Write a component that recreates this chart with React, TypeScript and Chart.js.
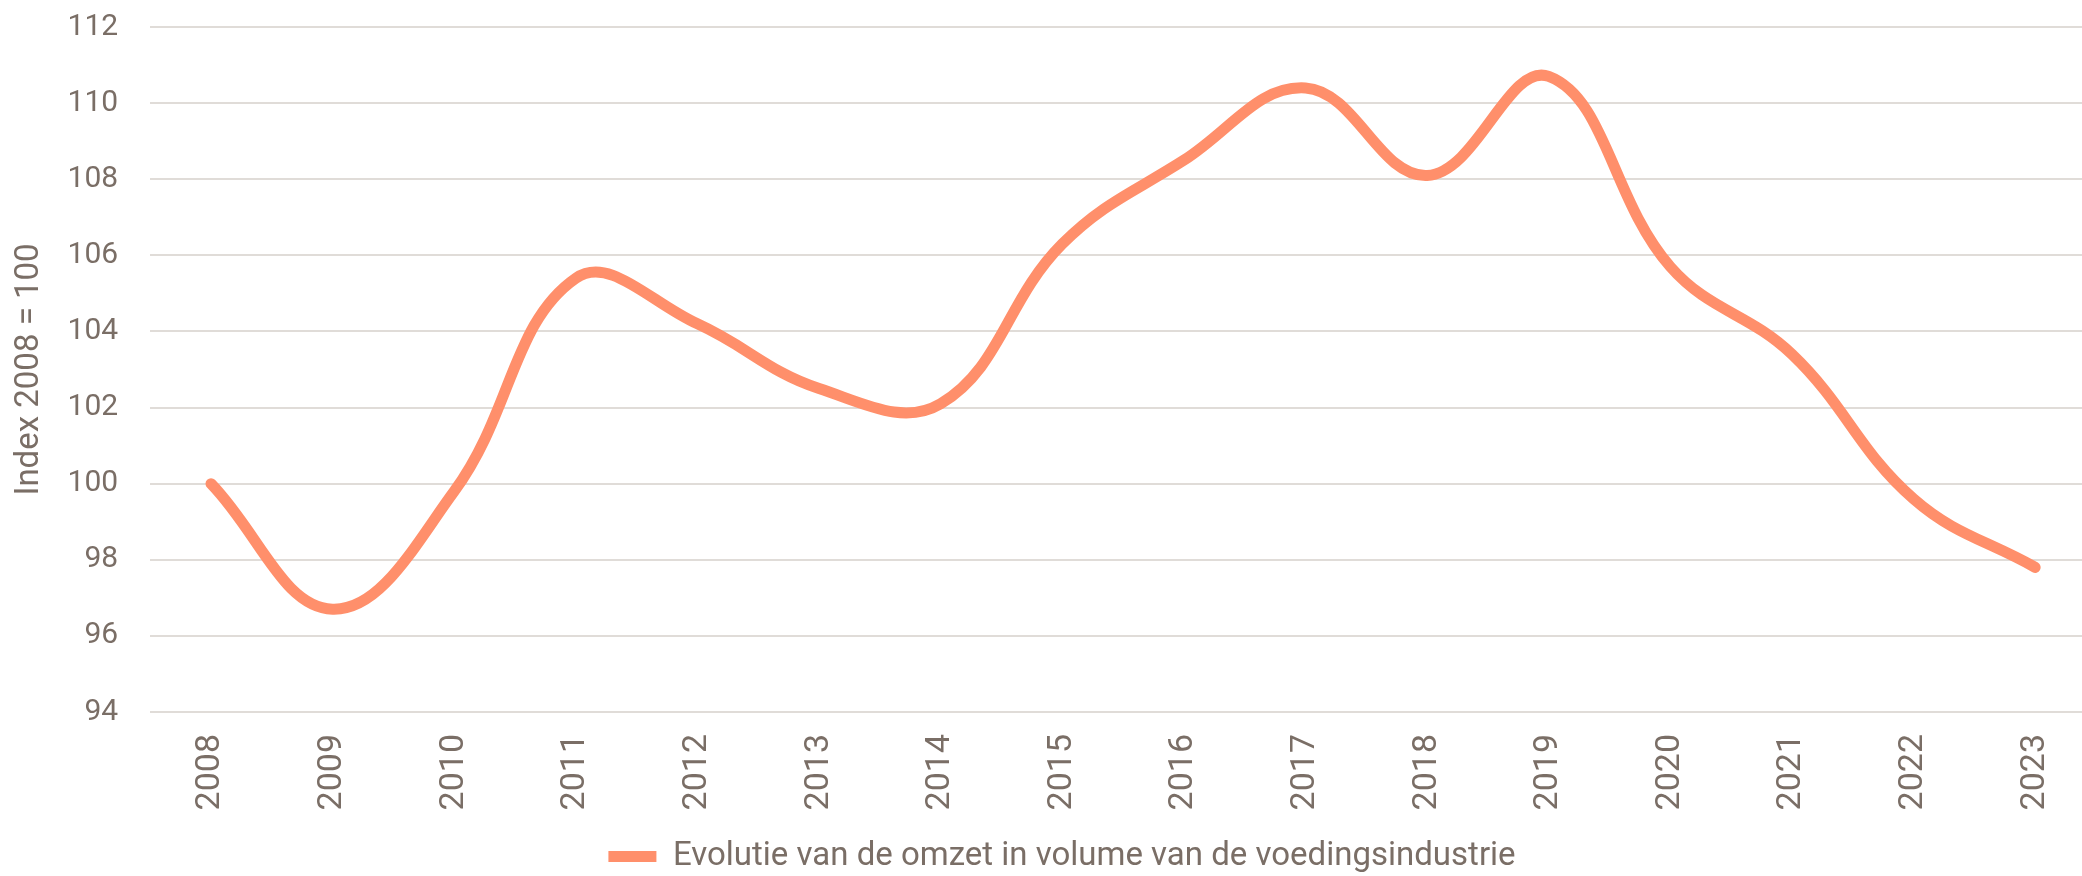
import React, { useEffect, useRef } from "react";
import { Chart, registerables } from "chart.js";

Chart.register(...registerables);

const years = ["2008","2009","2010","2011","2012","2013","2014","2015","2016","2017","2018","2019","2020","2021","2022","2023"];
const omzetIndex = [100, 96.7, 99.8, 105.4, 104.2, 102.5, 102.1, 106.3, 108.5, 110.4, 108.1, 110.7, 105.7, 103.4, 99.6, 97.8];
const seriesLabel = "Evolutie van de omzet in volume van de voedingsindustrie";
const yTitle = "Index 2008 = 100";
const yMin = 94;
const yMax = 112;
const yStep = 2;

const TEXT = "#7a6e66";
const LINE = "#ff8f6b";
const GRID = "#e0dcd8";
const FONT = "Roboto";

export default function App() {
  const ref = useRef<HTMLCanvasElement | null>(null);
  useEffect(() => {
    if (!ref.current) return;
    const chart = new Chart(ref.current, {
      type: "line",
      data: {
        labels: years,
        datasets: [
          {
            label: seriesLabel,
            data: omzetIndex,
            borderColor: LINE,
            backgroundColor: LINE,
            borderWidth: 11,
            borderCapStyle: "round",
            borderJoinStyle: "round",
            tension: 0.4,
            pointRadius: 0,
            pointHoverRadius: 0,
            fill: false,
          },
        ],
      },
      options: {
        animation: false,
        responsive: false,
        maintainAspectRatio: false,
        layout: { padding: { top: 0, right: 4, left: 28, bottom: -7 } },
        plugins: {
          tooltip: { enabled: false },
          legend: {
            position: "bottom",
            labels: {
              usePointStyle: true,
              pointStyle: "line",
              pointStyleWidth: 48,
              boxHeight: 28,
              color: TEXT,
              font: { family: FONT, size: 33 },
              padding: 3,
            },
          },
        },
        scales: {
          x: {
            offset: true,
            grid: { display: false, drawTicks: false },
            border: { display: false },
            ticks: {
              color: TEXT,
              font: { family: FONT, size: 34 },
              minRotation: 90,
              maxRotation: 90,
              padding: 22,
              autoSkip: false,
            },
            afterFit: (scale: any) => {
              scale.height = 125;
              scale.paddingLeft = 0;
              scale.paddingRight = 0;
            },
          },
          y: {
            min: yMin,
            max: yMax,
            grid: { color: GRID, lineWidth: 2, drawTicks: false },
            border: { display: false },
            ticks: {
              stepSize: yStep,
              color: TEXT,
              font: { family: FONT, size: 30 },
              padding: 32,
            },
            title: {
              display: true,
              text: yTitle,
              color: TEXT,
              font: { family: FONT, size: 33 },
              padding: { top: -18, bottom: -14 },
            },
            afterFit: (scale: any) => {
              scale.paddingTop = 27;
              scale.paddingBottom = 0;
            },
          },
        },
      },
    });
    return () => chart.destroy();
  }, []);
  return (
    <div style={{ position: "fixed", left: 0, top: 0, width: 2082, height: 876, overflow: "hidden", background: "#fff" }}>
      <canvas ref={ref} width={2100} height={876} style={{ display: "block", width: 2100, height: 876 }} />
    </div>
  );
}
